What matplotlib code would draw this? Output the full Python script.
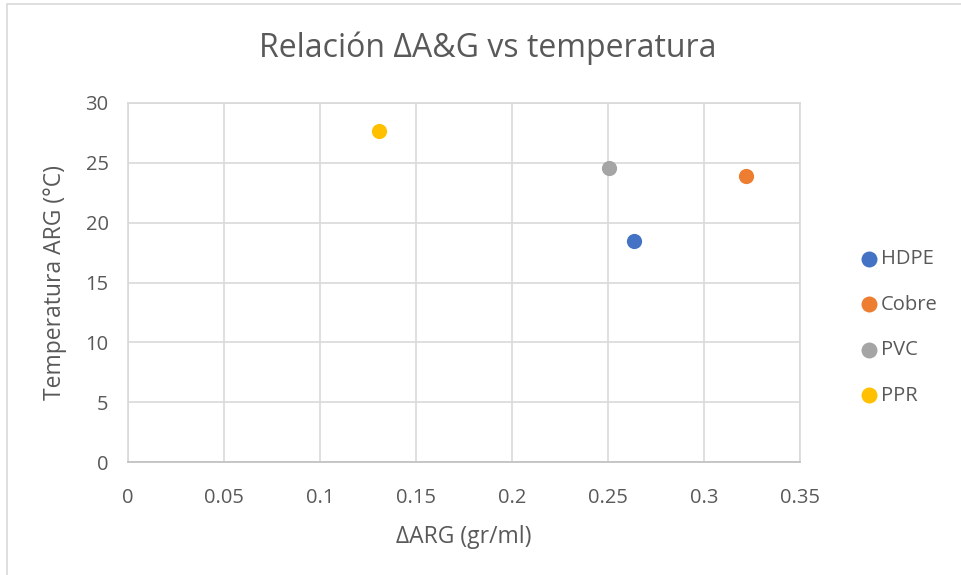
import matplotlib.pyplot as plt
from matplotlib.patches import Rectangle

plt.rcParams['font.family'] = ['Open Sans', 'DejaVu Sans']

# data
materiales = ["HDPE", "Cobre", "PVC", "PPR"]
delta_arg = [0.2635, 0.3219, 0.2505, 0.1307]
temperatura = [18.45, 23.9, 24.55, 27.65]
colores = ["#4472C4", "#ED7D31", "#A5A5A5", "#FFC000"]

x_ticks = [0, 0.05, 0.1, 0.15, 0.2, 0.25, 0.3, 0.35]
x_labels = ["0", "0.05", "0.1", "0.15", "0.2", "0.25", "0.3", "0.35"]
y_ticks = [0, 5, 10, 15, 20, 25, 30]

txt = "#595959"
grid = "#D9D9D9"

fig = plt.figure(figsize=(9.61, 5.75), dpi=100)
ax = fig.add_axes([128 / 961, 1 - 462 / 575, 672 / 961, 359 / 575])

for nombre, x, y, c in zip(materiales, delta_arg, temperatura, colores):
    ax.scatter([x], [y], s=120, color=c, label=nombre, zorder=3, linewidths=0)

ax.set_xlim(0, 0.35)
ax.set_ylim(0, 30)
ax.set_xticks(x_ticks)
ax.set_xticklabels(x_labels)
ax.set_yticks(y_ticks)
ax.grid(True, color=grid, linewidth=1.2)
ax.set_axisbelow(True)
for s in ax.spines.values():
    s.set_color(grid)
    s.set_linewidth(1.2)
ax.spines['bottom'].set_color("#BFBFBF")
ax.tick_params(length=0, labelsize=14.5, colors=txt)
ax.tick_params(axis='x', pad=19)
ax.tick_params(axis='y', pad=14)

ax.set_xlabel("ΔARG (gr/ml)", fontsize=16.5, color=txt, labelpad=12)
ax.set_ylabel("Temperatura ARG (°C)", fontsize=16.5, color=txt, labelpad=13)
fig.text(488 / 961, 1 - 48 / 575, "Relación ΔA&G vs temperatura",
         ha='center', va='center', fontsize=23, color=txt)

leg = fig.legend(loc='upper left', bbox_to_anchor=(850 / 961, 1 - 241 / 575),
                 frameon=False, fontsize=14.5, labelspacing=1.27,
                 handletextpad=0.05, handlelength=1.1, borderaxespad=0,
                 markerscale=1.05)
for t in leg.get_texts():
    t.set_color(txt)

# chart frame (top and left edges visible)
fig.add_artist(Rectangle((7 / 961, -0.05), 1.2, 1.05 - 4 / 575,
                         transform=fig.transFigure, fill=False,
                         edgecolor=grid, linewidth=1.2))

fig.savefig("out.png", dpi=100)
